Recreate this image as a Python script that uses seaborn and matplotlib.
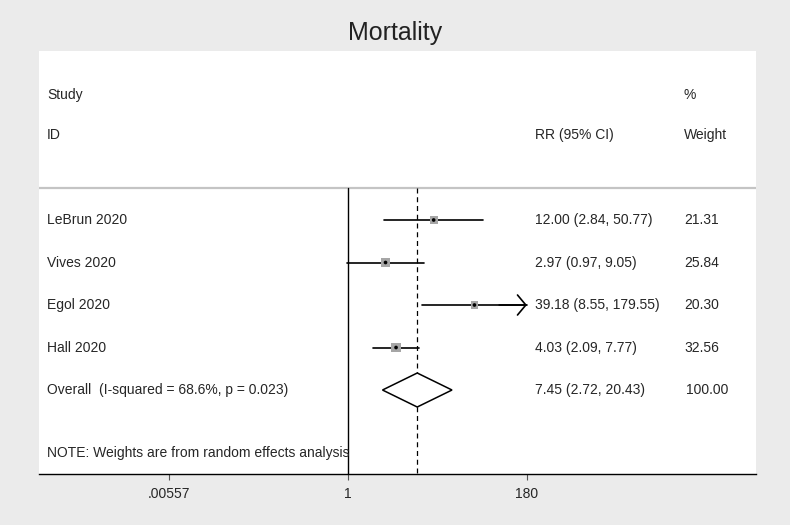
import numpy as np
import pandas as pd
import seaborn as sns
import matplotlib.pyplot as plt
from matplotlib.patches import Polygon

# data
studies = ["LeBrun 2020", "Vives 2020", "Egol 2020", "Hall 2020"]
rr = [12.00, 2.97, 39.18, 4.03]
lower = [2.84, 0.97, 8.55, 2.09]
upper = [50.77, 9.05, 179.55, 7.77]
weights = [21.31, 25.84, 20.30, 32.56]
ci_text = ["12.00 (2.84, 50.77)", "2.97 (0.97, 9.05)", "39.18 (8.55, 179.55)", "4.03 (2.09, 7.77)"]
weight_text = ["21.31", "25.84", "20.30", "32.56"]
clipped = [False, False, True, False]  # CI runs past the axis -> arrow

overall_label = "Overall  (I-squared = 68.6%, p = 0.023)"
overall_rr, overall_lo, overall_hi = 7.45, 2.72, 20.43
overall_ci_text = "7.45 (2.72, 20.43)"
overall_weight_text = "100.00"

xticks = [0.00557, 1, 180]
xtick_labels = [".00557", "1", "180"]

sns.set_style("white")
plt.rcParams['font.family'] = ['Liberation Sans', 'DejaVu Sans']

BG = "#ebebeb"
fig = plt.figure(figsize=(7.9, 5.25), dpi=100, facecolor=BG)
W, H = 790, 525
ax = fig.add_axes([39 / W, (H - 474) / H, (756 - 39) / W, (474 - 51) / H])
ax.set_facecolor("white")

ax.set_xscale("log")
ax.set_xlim(np.exp(-8.964), np.exp(11.836))
ax.set_ylim(5.976, -3.976)

rows = np.arange(len(studies))
df = pd.DataFrame({"study": studies, "rr": rr, "lo": lower, "hi": upper,
                   "weight": weights, "row": rows, "clipped": clipped})

# reference lines
sep_y = -0.75
ax.plot([1, 1], [sep_y, 5.976], color="black", lw=1.0, zorder=2)
ax.plot([overall_rr, overall_rr], [sep_y, 5.976], color="black", lw=0.9,
        ls=(0, (4, 3)), zorder=2)
ax.axhline(sep_y, color="#c4c4c4", lw=1.6, zorder=1)

# CI lines
for _, r in df.iterrows():
    ax.plot([r["lo"], r["hi"]], [r["row"], r["row"]], color="black", lw=1.2, zorder=3)
    if r["clipped"]:
        ax.annotate("", xy=(r["hi"], r["row"]), xycoords="data",
                    xytext=(-20, 0), textcoords="offset points",
                    arrowprops=dict(arrowstyle="->,head_length=0.3,head_width=0.36",
                                    lw=1.2, color="black", mutation_scale=20,
                                    shrinkA=0, shrinkB=0))

# weight boxes and point estimates
sns.scatterplot(data=df, x="rr", y="row", size="weight", sizes=(0, 150),
                size_norm=(0, 100), marker="s", color="#a6a6a6", edgecolor="none",
                linewidth=0, legend=False, ax=ax, zorder=4)
sns.scatterplot(data=df, x="rr", y="row", s=7, color="black", edgecolor="none",
                linewidth=0, legend=False, ax=ax, zorder=5)

# overall diamond
oy = len(studies)
dh = 0.4
diamond = Polygon([(overall_lo, oy), (overall_rr, oy - dh), (overall_hi, oy), (overall_rr, oy + dh)],
                  closed=True, facecolor="white", edgecolor="black", lw=1.1, zorder=4)
ax.add_patch(diamond)

# text columns
tx = ax.get_yaxis_transform()
x_study = (47 - 39) / (756 - 39)
x_ci = (535 - 39) / (756 - 39)
x_w = (684 - 39) / (756 - 39)
fs = 10
ax.text(x_study, -2.94, "Study", transform=tx, fontsize=fs, va="center")
ax.text(x_study, -2.0, "ID", transform=tx, fontsize=fs, va="center")
ax.text(x_ci, -2.0, "RR (95% CI)", transform=tx, fontsize=fs, va="center")
ax.text(x_w, -2.94, "%", transform=tx, fontsize=fs, va="center")
ax.text(x_w, -2.0, "Weight", transform=tx, fontsize=fs, va="center")
for i in rows:
    ax.text(x_study, i, studies[i], transform=tx, fontsize=fs, va="center")
    ax.text(x_ci, i, ci_text[i], transform=tx, fontsize=fs, va="center")
    ax.text(x_w, i, weight_text[i], transform=tx, fontsize=fs, va="center")
ax.text(x_study, oy, overall_label, transform=tx, fontsize=fs, va="center")
ax.text(x_ci, oy, overall_ci_text, transform=tx, fontsize=fs, va="center")
ax.text(x_w + 0.003, oy, overall_weight_text, transform=tx, fontsize=fs, va="center")
ax.text(x_study, 5.48, "NOTE: Weights are from random effects analysis", transform=tx,
        fontsize=fs, va="center")

# axes styling
for s in ["top", "left", "right"]:
    ax.spines[s].set_visible(False)
ax.spines["bottom"].set_color("black")
ax.spines["bottom"].set_linewidth(1.0)
ax.set_xticks(xticks)
ax.set_xticklabels(xtick_labels, fontsize=fs)
ax.xaxis.set_minor_locator(plt.NullLocator())
ax.tick_params(axis="x", direction="out", length=4.5, width=0.8, color="#555555",
               pad=5, bottom=True)
ax.set_yticks([])
ax.set_xlabel("")
ax.set_ylabel("")

fig.text(0.5, 1 - 33 / H, "Mortality", ha="center", va="center", fontsize=18, color="#222222")

fig.savefig("out.png", dpi=100, facecolor=BG)
